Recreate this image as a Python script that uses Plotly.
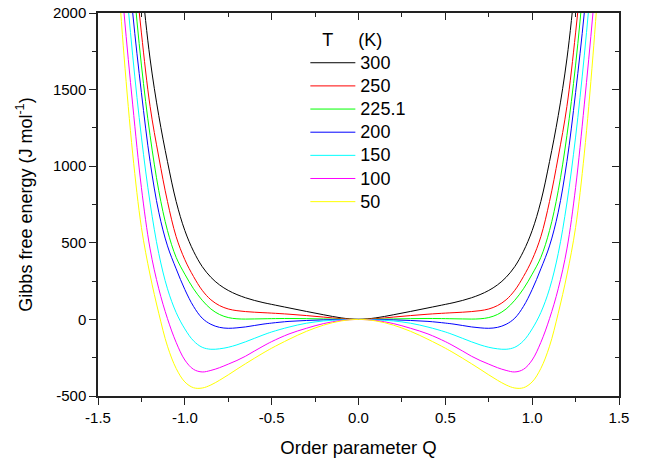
import plotly.graph_objects as go

# Order parameter grid
Q = [-1.4, -1.35, -1.3, -1.25, -1.2, -1.15, -1.1, -1.05, -1.0, -0.95, -0.9, -0.85, -0.8, -0.75,
     -0.7, -0.65, -0.6, -0.55, -0.5, -0.4, -0.3, -0.2, -0.1, 0.0, 0.1, 0.2, 0.3, 0.4, 0.5,
     0.55, 0.6, 0.65, 0.7, 0.75, 0.8, 0.85, 0.9, 0.95, 1.0, 1.05, 1.1, 1.15, 1.2, 1.25, 1.3,
     1.35, 1.4]

# Gibbs free energy (J/mol)
G_300 = [4350, 3550, 2850, 2220, 1700, 1330, 1030, 770, 580, 445, 345, 275, 225, 189, 162, 141,
         124, 110, 98, 75, 52, 30, 10, 0, 10, 30, 52, 75, 98, 110, 124, 141, 162, 189, 225, 275,
         345, 445, 580, 770, 1030, 1330, 1700, 2220, 2850, 3550, 4350]
G_250 = [3950, 3150, 2450, 1870, 1390, 1060, 770, 540, 390, 280, 190, 128, 90, 68, 57, 51, 47,
         44, 41, 34, 25, 15, 5, 0, 5, 15, 25, 34, 41, 44, 47, 51, 57, 68, 90, 128, 190, 280, 390,
         540, 770, 1060, 1390, 1870, 2450, 3150, 3950]
G_2251 = [3750, 2950, 2250, 1660, 1200, 840, 580, 405, 295, 200, 125, 68, 32, 12, 4, 2, 3, 4, 5,
          6, 5, 3, 1, 0, 1, 3, 5, 6, 5, 4, 3, 2, 4, 12, 32, 68, 125, 200, 295, 405, 580, 840,
          1200, 1660, 2250, 2950, 3750]
G_200 = [3400, 2650, 2000, 1480, 1030, 700, 480, 330, 195, 85, 8, -32, -52, -58, -55, -49, -40,
         -31, -24, -13, -7, -3, -1, 0, -1, -3, -7, -13, -24, -31, -40, -49, -55, -58, -52, -32, 8,
         85, 195, 330, 480, 700, 1030, 1480, 2000, 2650, 3400]
G_150 = [3100, 2350, 1720, 1190, 760, 430, 200, 45, -62, -140, -182, -195, -192, -182, -166,
         -146, -124, -102, -82, -50, -25, -10, -3, 0, -3, -10, -25, -50, -82, -102, -124, -146,
         -166, -182, -192, -195, -182, -140, -62, 45, 200, 430, 760, 1190, 1720, 2350, 3100]
G_100 = [2700, 2000, 1400, 860, 460, 200, 5, -150, -265, -326, -343, -333, -315, -292, -268,
         -240, -207, -175, -145, -95, -58, -27, -7, 0, -7, -27, -58, -95, -145, -175, -207, -240,
         -268, -292, -315, -333, -343, -326, -265, -150, 5, 200, 460, 860, 1400, 2000, 2700]
G_50 = [2500, 1720, 1080, 600, 290, 40, -175, -320, -408, -446, -448, -428, -397, -362, -325,
        -289, -254, -220, -188, -130, -78, -37, -10, 0, -10, -37, -78, -130, -188, -220, -254,
        -289, -325, -362, -397, -428, -448, -446, -408, -320, -175, 40, 290, 600, 1080, 1720, 2500]

temps = ["300", "250", "225.1", "200", "150", "100", "50"]
series = [G_300, G_250, G_2251, G_200, G_150, G_100, G_50]
colors = ["#000000", "#FF0000", "#00FF00", "#0000FF", "#00FFFF", "#FF00FF", "#FFFF00"]

x_tick_vals = [-1.5, -1.0, -0.5, 0.0, 0.5, 1.0, 1.5]
x_tick_text = ["-1.5", "-1.0", "-0.5", "0.0", "0.5", "1.0", "1.5"]
y_tick_vals = [-500, 0, 500, 1000, 1500, 2000]
y_tick_text = ["-500", "0", "500", "1000", "1500", "2000"]

FONT = "Liberation Sans, Arial, sans-serif"
LEG_SPAN = "<span style='font-size:18px'>{}</span>"

fig = go.Figure()
for name, g, c in zip(temps, series, colors):
    fig.add_trace(go.Scatter(x=Q, y=g, mode="lines", name=LEG_SPAN.format(name),
                             line=dict(color=c, width=1.0, shape="spline", smoothing=1.0)))

# helper trace so that the mirrored top/right axes are drawn
fig.add_trace(go.Scatter(x=[None], y=[None], xaxis="x2", yaxis="y2", showlegend=False,
                         hoverinfo="skip", mode="lines"))

axis_common = dict(showgrid=False, zeroline=False, showline=True, linecolor="#222222",
                   linewidth=1.5, ticklen=7, tickwidth=1.2, tickcolor="#222222",
                   automargin=False)

fig.update_layout(
    width=649, height=462,
    margin=dict(l=98, r=30, t=13, b=66),
    paper_bgcolor="white", plot_bgcolor="white",
    font=dict(family=FONT, size=15, color="#000000"),
    showlegend=True,
    legend=dict(
        x=0.398, y=0.966, xanchor="left", yanchor="top",
        bgcolor="rgba(0,0,0,0)", borderwidth=0,
        font=dict(family=FONT, size=15.5),
        title=dict(text=LEG_SPAN.format("\u00a0\u00a0\u00a0T\u00a0\u00a0\u00a0\u00a0\u00a0(K)"),
                   font=dict(family=FONT, size=15.5)),
        itemwidth=45, tracegroupgap=0,
    ),
    xaxis=dict(range=[-1.5, 1.5], ticks="outside", tickmode="array",
               tickvals=x_tick_vals, ticktext=x_tick_text,
               minor=dict(ticks="outside", ticklen=4, dtick=0.25, tick0=0, tickcolor="#222222"),
               title=dict(text="Order parameter Q", font=dict(size=18.5), standoff=16),
               **axis_common),
    yaxis=dict(range=[-500, 2000], ticks="outside", tickmode="array",
               tickvals=y_tick_vals, ticktext=y_tick_text,
               minor=dict(ticks="outside", ticklen=4, dtick=250, tick0=0, tickcolor="#222222"),
               title=dict(text="Gibbs free energy (J mol<sup>-1</sup>)", font=dict(size=18),
                          standoff=16),
               **axis_common),
    xaxis2=dict(range=[-1.5, 1.5], overlaying="x", side="top", anchor="y2",
                ticks="inside", showticklabels=False, tickmode="array", tickvals=x_tick_vals,
                minor=dict(ticks="inside", ticklen=4, dtick=0.25, tick0=0, tickcolor="#222222"),
                **axis_common),
    yaxis2=dict(range=[-500, 2000], overlaying="y", side="right", anchor="x2",
                ticks="inside", showticklabels=False, tickmode="array", tickvals=y_tick_vals,
                minor=dict(ticks="inside", ticklen=4, dtick=250, tick0=0, tickcolor="#222222"),
                **axis_common),
)

fig.write_html("out.html", config={"displayModeBar": False},
               post_script="document.body.style.margin='0px';document.body.style.overflow='hidden';")
